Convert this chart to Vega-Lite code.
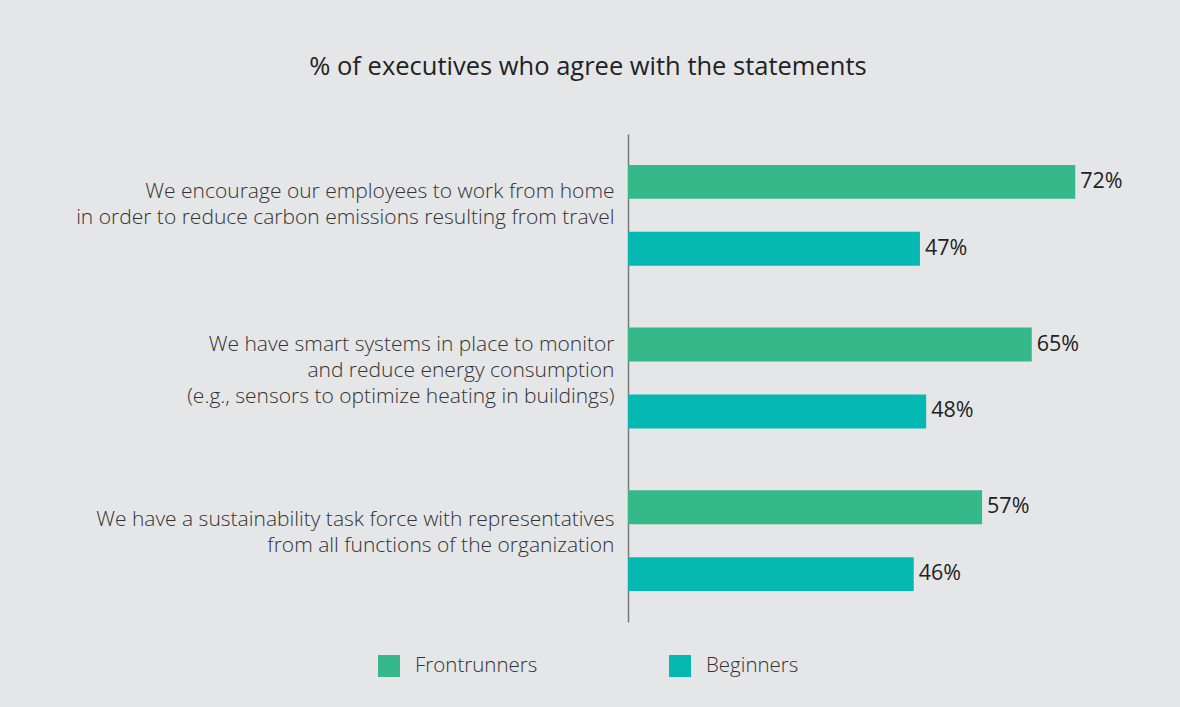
{
  "$schema": "https://vega.github.io/schema/vega-lite/v6.json",
  "width": 528,
  "height": 488,
  "autosize": {"type": "none"},
  "padding": {"left": 628, "top": 134, "right": 24, "bottom": 85},
  "background": "#e5e6e8",
  "config": {"view": {"stroke": null}, "font": "Open Sans"},
  "title": {
    "text": "% of executives who agree with the statements",
    "anchor": "middle",
    "frame": "group",
    "dx": -304,
    "offset": 54,
    "fontSize": 25.5,
    "fontWeight": "normal",
    "color": "#222222"
  },
  "data": {
    "values": [
      {"statement": "We encourage our employees to work from home|in order to reduce carbon emissions resulting from travel", "group": "Frontrunners", "value": 72, "label": "72%"},
      {"statement": "We encourage our employees to work from home|in order to reduce carbon emissions resulting from travel", "group": "Beginners", "value": 47, "label": "47%"},
      {"statement": "We have smart systems in place to monitor|and reduce energy consumption|(e.g., sensors to optimize heating in buildings)", "group": "Frontrunners", "value": 65, "label": "65%"},
      {"statement": "We have smart systems in place to monitor|and reduce energy consumption|(e.g., sensors to optimize heating in buildings)", "group": "Beginners", "value": 48, "label": "48%"},
      {"statement": "We have a sustainability task force with representatives|from all functions of the organization", "group": "Frontrunners", "value": 57, "label": "57%"},
      {"statement": "We have a sustainability task force with representatives|from all functions of the organization", "group": "Beginners", "value": 46, "label": "46%"}
    ]
  },
  "encoding": {
    "y": {
      "field": "statement",
      "type": "nominal",
      "sort": null,
      "scale": {"paddingInner": 0, "paddingOuter": 0},
      "axis": {
        "title": null,
        "ticks": false,
        "domainColor": "#7a7a7a",
        "domainWidth": 1.5,
        "labelExpr": "split(datum.label, '|')",
        "labelAlign": "right",
        "labelPadding": 14,
        "labelFontSize": 21,
        "labelLineHeight": 26,
        "labelLimit": 0,
        "labelColor": "#333333",
        "labelFontWeight": 300,
        "labelOffset": {
          "condition": [
            {"test": "indexof(datum.value, 'monitor') >= 0", "value": -33},
            {"test": "indexof(datum.value, 'encourage') >= 0", "value": -23}
          ],
          "value": -21
        }
      }
    },
    "yOffset": {
      "field": "group",
      "sort": ["Frontrunners", "Beginners"],
      "scale": {"paddingInner": 0.4925, "paddingOuter": 0.4627}
    },
    "x": {
      "field": "value",
      "type": "quantitative",
      "scale": {"domain": [0, 85]},
      "axis": null
    }
  },
  "layer": [
    {
      "mark": {"type": "bar"},
      "encoding": {
        "color": {
          "field": "group",
          "type": "nominal",
          "sort": ["Frontrunners", "Beginners"],
          "scale": {"domain": ["Frontrunners", "Beginners"], "range": ["#35b98a", "#05b8b1"]},
          "legend": {
            "title": null,
            "orient": "none",
            "direction": "horizontal",
            "legendX": -250,
            "legendY": 521,
            "symbolType": "square",
            "symbolSize": 484,
            "symbolStrokeWidth": 0,
            "symbolOpacity": 1,
            "labelOffset": 15,
            "labelFontSize": 20.5,
            "labelFontWeight": 300,
            "labelColor": "#333333",
            "columnPadding": 131
          }
        }
      }
    },
    {
      "mark": {"type": "text", "align": "left", "baseline": "middle", "dx": 5, "fontSize": 21.5, "color": "#222222"},
      "encoding": {"text": {"field": "label"}}
    }
  ]
}
